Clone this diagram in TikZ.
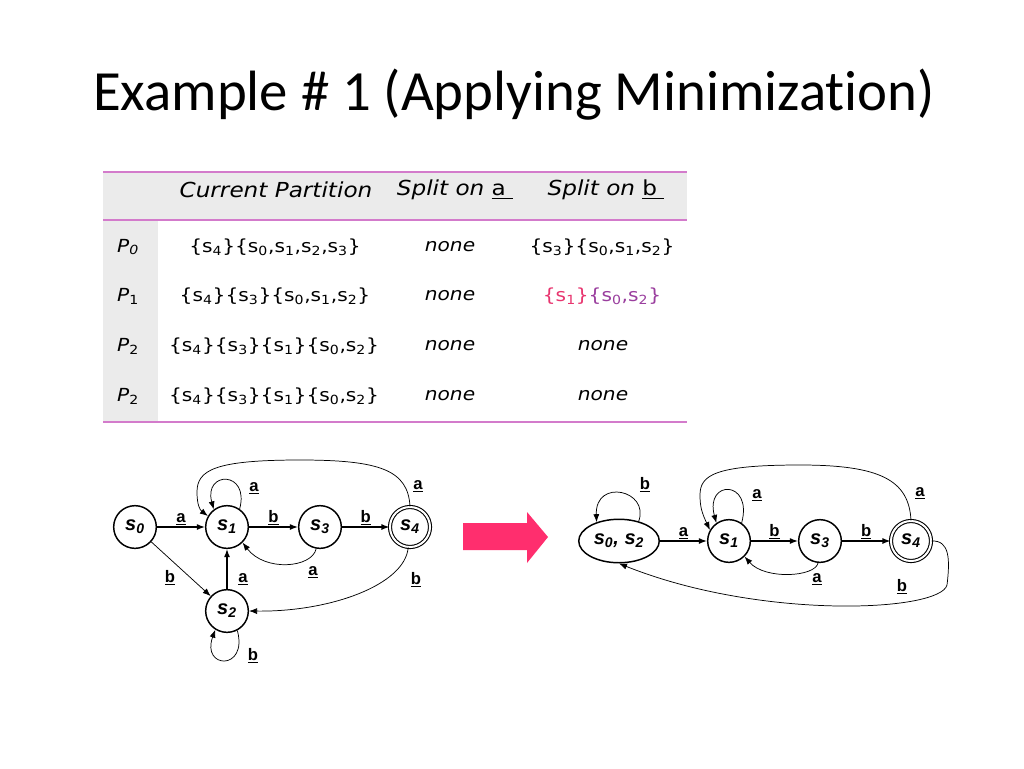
\documentclass[tikz,border=0pt]{standalone}
\usepackage{fontspec}
\setmainfont[Ligatures=NoCommon]{Carlito}
\newfontfamily\tabfont[FakeStretch=1.12]{DejaVu Sans}
\newfontfamily\arialfont{Liberation Sans}
\usetikzlibrary{arrows.meta,shapes.geometric}
\definecolor{linepink}{HTML}{D37BCB}
\definecolor{tabgrey}{HTML}{EBEBEB}
\definecolor{splitred}{HTML}{E8356F}
\definecolor{splitpurple}{HTML}{9A3E9E}
\definecolor{arrowpink}{HTML}{FF2E6E}
\newcommand{\sx}[1]{s\textsubscript{#1}}

\begin{document}
\begin{tikzpicture}[x=0.75pt,y=0.75pt,
    tabtxt/.style={inner sep=0pt,text=black,font=\tabfont\fontsize{13.5}{15}\selectfont},
    tabhead/.style={tabtxt,font=\tabfont\itshape\fontsize{15.5}{17}\selectfont},
    stnode/.style={circle,draw,line width=1.1pt,minimum size=32pt,inner sep=0pt,
        font=\arialfont\bfseries\itshape\fontsize{15}{16}\selectfont},
    finalnode/.style={stnode,double,line width=0.8pt,double distance=1.5pt,minimum size=30pt},
    ellnode/.style={stnode,ellipse,minimum width=60.4pt,minimum height=32.6pt},
    ed/.style={-{Latex[length=6pt,width=4.5pt]},line width=1pt},
    thin/.style={ed,line width=0.55pt},
    lbl/.style={inner sep=1pt,font=\arialfont\bfseries\fontsize{12.5}{13}\selectfont}]
   %\draw[help lines] (0,0) grid[step=50] (1024,-768);
    \fill[white] (0,0) rectangle (1024,-768);
    \useasboundingbox (0,0) rectangle (1024,-768);
    \node[anchor=base west,inner sep=0pt,font=\fontsize{42.6}{44}\selectfont] (title) at (93,-110) {Example \# 1 (Applying Minimization)};

    % table
    \fill[tabgrey] (103,-172) rectangle (687,-220);
    \fill[tabgrey] (103,-220) rectangle (158,-422);
    \draw[linepink,line width=1.1pt] (103,-172) -- (687,-172);
    \draw[linepink,line width=1.1pt] (103,-220) -- (687,-220);
    \draw[linepink,line width=1.1pt] (103,-422) -- (687,-422);
    \node[tabhead] (hcur) at (276,-190) {Current Partition};
    \node[tabhead] (hsa) at (455,-190) {Split on \underline{\upshape a\hspace{0.35em}}};
    \node[tabhead] (hsb) at (606,-190) {Split on \underline{\upshape b\hspace{0.35em}}};
    \node[tabtxt] (p0) at (128,-247) {\itshape P\textsubscript{0}};
    \node[tabtxt] (p1) at (128,-296) {\itshape P\textsubscript{\upshape 1}};
    \node[tabtxt] (p2) at (128,-346) {\itshape P\textsubscript{\upshape 2}};
    \node[tabtxt] (p3) at (128,-396) {\itshape P\textsubscript{\upshape 2}};
    \node[tabtxt] (p0cur) at (275,-247) {\{\sx{4}\}\{\sx{0},\sx{1},\sx{2},\sx{3}\}};
    \node[tabtxt] (p1cur) at (275,-296) {\{\sx{4}\}\{\sx{3}\}\{\sx{0},\sx{1},\sx{2}\}};
    \node[tabtxt] (p2cur) at (274,-346) {\{\sx{4}\}\{\sx{3}\}\{\sx{1}\}\{\sx{0},\sx{2}\}};
    \node[tabtxt] (p3cur) at (274,-396) {\{\sx{4}\}\{\sx{3}\}\{\sx{1}\}\{\sx{0},\sx{2}\}};
    \node[tabtxt] (p0a) at (450,-247) {\itshape none};
    \node[tabtxt] (p1a) at (450,-296) {\itshape none};
    \node[tabtxt] (p2a) at (450,-346) {\itshape none};
    \node[tabtxt] (p3a) at (450,-396) {\itshape none};
    \node[tabtxt] (p0b) at (602,-247) {\{\sx{3}\}\{\sx{0},\sx{1},\sx{2}\}};
    \node[tabtxt] (p1b) at (602,-296) {{\color{splitred}\{\sx{1}\}}{\color{splitpurple}\{\sx{0},\sx{2}\}}};
    \node[tabtxt] (p2b) at (603,-346) {\itshape none};
    \node[tabtxt] (p3b) at (603,-396) {\itshape none};

    % first automaton
    \node[stnode] (a0) at (135,-527) {\sx{0}};
    \node[stnode] (a1) at (227,-527) {\sx{1}};
    \node[stnode] (a3) at (320,-527) {\sx{3}};
    \node[finalnode] (a4) at (410,-527) {\sx{4}};
    \node[stnode] (a2) at (227,-611) {\sx{2}};
    \draw[ed] (a0) -- node[lbl,above] {\underline{a}} (a1);
    \draw[ed] (a1) -- node[lbl,above] {\underline{b}} (a3);
    \draw[ed] (a3) -- node[lbl,above] {\underline{b}} (a4);
    \draw[ed] (a2) -- (a1);
    \node[lbl] (la21) at (243,-579) {\underline{a}};
    \draw[thin] (a0) -- (a2);
    \node[lbl] (la02) at (170,-578) {\underline{b}};
    \draw[thin] (a1.55) .. controls +(75:40) and +(105:40) .. (a1.127);
    \node[lbl] (la11) at (254,-488) {\underline{a}};
    \draw[thin] (a3.-100) .. controls (312,-568) and (265,-572) .. (a1.-45);
    \node[lbl] (la31) at (313,-572) {\underline{a}};
    \draw[thin] (a2.-62) .. controls +(-75:42) and +(-110:42) .. (a2.-122);
    \node[lbl] (la22) at (253,-656) {\underline{b}};
    \draw[thin] (a4.north) .. controls (408,-470) and (380,-460) .. (300,-460)
        .. controls (215,-460) and (197,-470) .. (197,-492)
        .. controls (197,-505) and (200,-510) .. (a1.150);
    \node[lbl] (la41) at (418,-486) {\underline{a}};
    \draw[thin] (a4.-95) .. controls (405,-585) and (330,-612) .. (a2.east);
    \node[lbl] (la42) at (416,-580) {\underline{b}};

    % arrow
    \fill[arrowpink] (463,-523) -- (527,-523) -- (527,-512) -- (548,-537) -- (527,-563) -- (527,-550) -- (463,-550) -- cycle;

    % minimized automaton
    \node[ellnode] (b0) at (619,-541) {\sx{0}, \sx{2}};
    \node[stnode] (b1) at (729,-541) {\sx{1}};
    \node[stnode] (b3) at (820,-541) {\sx{3}};
    \node[finalnode] (b4) at (911,-541) {\sx{4}};
    \draw[ed] (b0) -- node[lbl,above] {\underline{a}} (b1);
    \draw[ed] (b1) -- node[lbl,above] {\underline{b}} (b3);
    \draw[ed] (b3) -- node[lbl,above] {\underline{b}} (b4);
    \draw[thin] (b0.45) .. controls (650,-490) and (595,-478) .. (b0.140);
    \node[lbl] (lb00) at (645,-485) {\underline{b}};
    \draw[thin] (b1.55) .. controls +(75:45) and +(105:45) .. (b1.125);
    \node[lbl] (lb11) at (757,-495) {\underline{a}};
    \draw[thin] (b3.-95) .. controls (815,-577) and (765,-580) .. (b1.-45);
    \node[lbl] (lb31) at (817,-579) {\underline{a}};
    \draw[thin] (b4.north) .. controls (909,-480) and (880,-465) .. (800,-465)
        .. controls (715,-465) and (700,-475) .. (700,-495)
        .. controls (700,-507) and (702,-513) .. (b1.150);
    \node[lbl] (lb41) at (920,-493) {\underline{a}};
    \draw[thin] (b4.east) .. controls (950,-540) and (950,-560) .. (947,-585)
        .. controls (940,-612) and (760,-620) .. (b0.south);
    \node[lbl] (lb40) at (902,-587) {\underline{b}};
\end{tikzpicture}
\end{document}
